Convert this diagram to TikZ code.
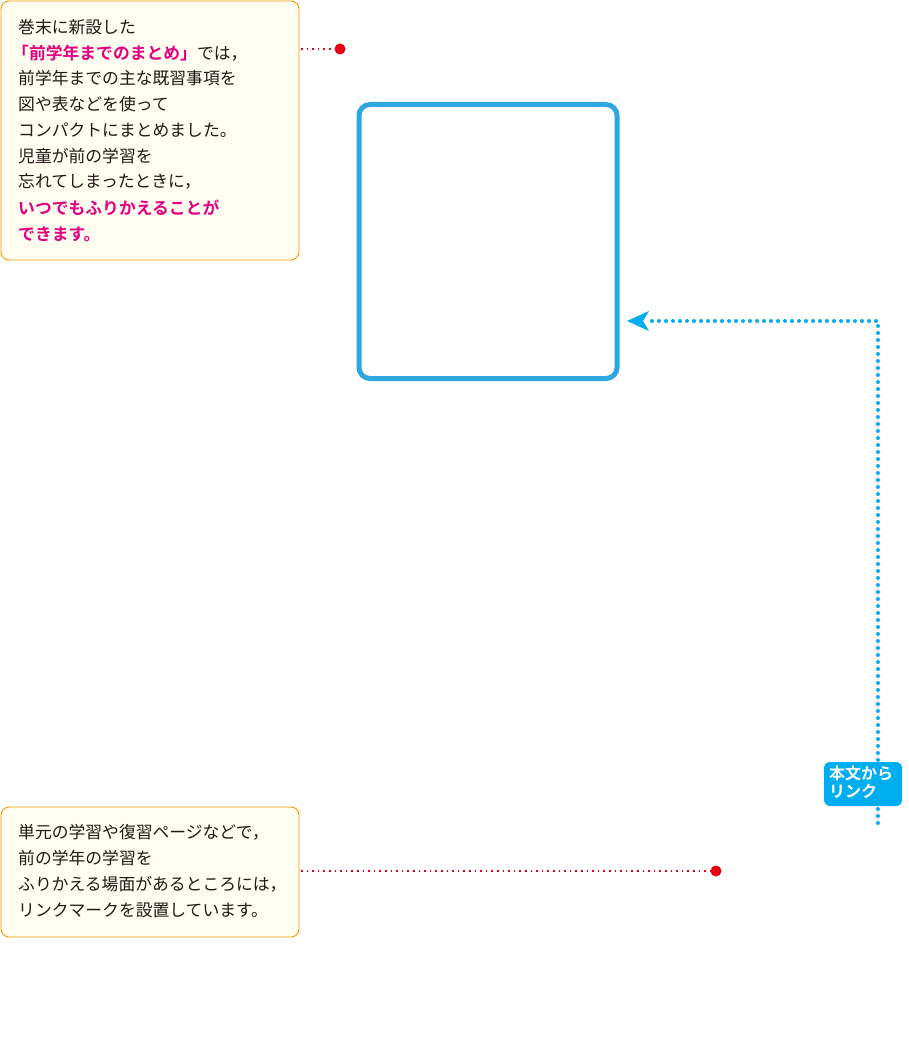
\documentclass[tikz,border=0pt]{standalone}
\usepackage{fontspec}
\setmainfont{Noto Sans CJK JP}
\newfontfamily\jpb{Noto Sans CJK JP Bold}
\usetikzlibrary{arrows.meta}
\definecolor{pk}{HTML}{E4007F}
\definecolor{rd}{HTML}{E60012}
\definecolor{cy}{HTML}{00AEEF}
\definecolor{bl}{HTML}{2EA7E0}
\definecolor{bx}{HTML}{FFFDF0}
\definecolor{ob}{HTML}{F39800}
\definecolor{tx}{HTML}{231815}
\begin{document}
\begin{tikzpicture}[x=1pt,y=-1pt,
  note/.style={draw=ob,fill=bx,line width=0.9pt,rounded corners=8pt},
  reddot/.style={draw=rd,line width=1.6pt,dash pattern=on 1.6pt off 4pt},
  bluedot/.style={draw=cy,line width=4pt,line cap=round,dash pattern=on 0pt off 7pt},
  txt/.style={anchor=west,inner sep=0pt,font=\fontsize{16.8}{19}\selectfont,text=tx}]
\useasboundingbox (0,0) rectangle (909,1038);
\draw[note] (1,1) rectangle (299,260);
\foreach \t [count=\i] in {巻末に新設した,{},前学年までの主な既習事項を,図や表などを使って,コンパクトにまとめました。,児童が前の学習を,忘れてしまったときに，}
  \node[txt] (l\i) at (18,{27+(\i-1)*25.8}) {\t};
\node[txt] (l2) at (12,52.8) {{\jpb\color{pk}「前学年までのまとめ」}では，};
\node[txt,text=pk] (l8) at (18,207.6) {\jpb いつでもふりかえることが};
\node[txt,text=pk] (l9) at (18,234) {\jpb できます。};
\coordinate (a1) at (301,49);
\node[circle,fill=rd,inner sep=0pt,minimum size=11pt] (d1) at (340,49) {};
\draw[reddot] (a1) -- (d1);
\node[draw=bl,line width=5pt,rounded corners=11pt,minimum width=258pt,minimum height=274pt,inner sep=0pt] (big) at (488,241.5) {};
\coordinate (c0) at (878,823);
\coordinate (c1) at (878,321);
\coordinate (c2) at (648,321);
\draw[bluedot] (c0) -- (c1) -- (c2);
\coordinate (tip) at (627,321);
\fill[cy] (tip) -- ++(22,-10) -- ++(-6,10) -- ++(6,10) -- cycle;
\node[fill=cy,rounded corners=6pt,minimum width=78pt,minimum height=44pt,inner sep=0pt] (badge) at (863,784) {};
\node[inner sep=0pt,anchor=north west,text=white,align=left,font=\jpb\fontsize{16}{18}\selectfont] (bt) at (829,766) {本文から\\リンク};
\draw[note] (1,807) rectangle (299,937);
\foreach \t [count=\i] in {単元の学習や復習ページなどで，,前の学年の学習を,ふりかえる場面があるところには，,リンクマークを設置しています。}
  \node[txt] (m\i) at (18,{832+(\i-1)*26}) {\t};
\coordinate (a2) at (301,871);
\node[circle,fill=rd,inner sep=0pt,minimum size=11pt] (d2) at (716,871) {};
\draw[reddot] (a2) -- (d2);
\end{tikzpicture}
\end{document}
